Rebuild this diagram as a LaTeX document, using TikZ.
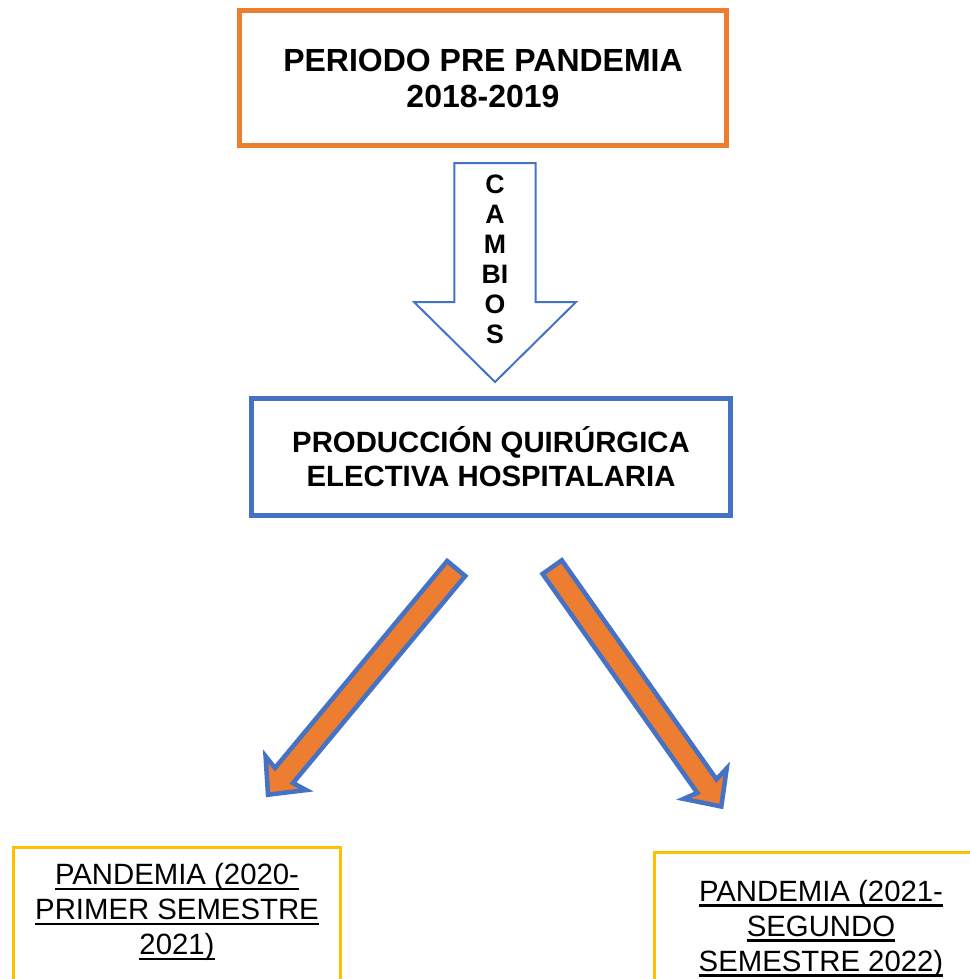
\documentclass[tikz,border=0pt]{standalone}
\usepackage{fontspec}
\setmainfont{Liberation Sans}
\usetikzlibrary{calc,positioning}
\definecolor{boxorange}{HTML}{ED7D31}
\definecolor{boxblue}{HTML}{4472C4}
\definecolor{boxyellow}{HTML}{FFC000}
\tikzset{orangebox/.style={draw=boxorange,line width=3.5pt,minimum width=365.5pt,minimum
height=101.5pt,align=center,font=\fontsize{24}{27}\selectfont\bfseries},bluebox/.style={draw=boxblue,line width=3.5pt,minimum width=359.5pt,minimum
height=88pt,align=center,font=\fontsize{22}{25.5}\selectfont\bfseries}}
\tikzstyle{yellowbox}   = [draw=boxyellow, line width=2pt, anchor=north, minimum width=245.5pt, align=center, text depth=90pt, font=\fontsize{22}{26.25}\selectfont]
\tikzstyle{cambiostext} = [align=center, inner sep=0pt, font=\fontsize{20}{22.5}\selectfont\bfseries]
\tikzstyle{cambiosarrow}= [draw=boxblue, line width=1.5pt, fill=white, line join=miter]
\tikzstyle{diagarrow}   = [draw=boxblue, line width=3.4pt, fill=boxorange, line join=miter]
\newcommand{\undl}[1]{\setbox0\hbox{#1}\rlap{\vrule height -2.3pt depth 3.9pt width \wd0}\box0}
\newcommand{\blockarr}[7][]{%
  \path ($(#3)!#6!(#2)$) coordinate (hb) ($(#3)!#6-#7!(#2)$) coordinate (hj);
  \draw[#1] ($(#2)!#4!90:(#3)$) -- ($(hj)!#4!90:(#3)$) -- ($(hb)!#5!90:(#3)$) -- (#3)
    -- ($(hb)!#5!-90:(#3)$) -- ($(hj)!#4!-90:(#3)$) -- ($(#2)!#4!-90:(#3)$) -- cycle;}

\begin{document}
\begin{tikzpicture}[x=0.75pt,y=-0.75pt]
		\useasboundingbox (0,0) rectangle (970,979);
		\clip (0,0) rectangle (970,979);
		\node[orangebox] (pre) at (483,78) {PERIODO PRE PANDEMIA\\2018-2019};
		\node[bluebox] (prod) at (491,457) {PRODUCCIÓN QUIRÚRGICA\\ELECTIVA HOSPITALARIA};
		\node[yellowbox, inner ysep=12pt] (pan1) at (177,846.3)
			{\undl{PANDEMIA (2020-}\\\undl{PRIMER SEMESTRE}\\\undl{2021)}};
		\node[yellowbox, inner ysep=20.6pt, minimum width=250pt] (pan2) at (821,851.3)
			{\undl{PANDEMIA (2021-}\\\undl{SEGUNDO}\\\undl{SEMESTRE 2022)}};
		\coordinate (cb0) at (495,163);
		\coordinate (cb1) at (495,382);
		\coordinate (la0) at (456.2,568.5);
		\coordinate (la1) at (268,794.7);
		\coordinate (ra0) at (552.2,567.1);
		\coordinate (ra1) at (721.3,806.5);
		\blockarr[cambiosarrow]{cb0}{cb1}{30.4pt}{60.75pt}{60pt}{0pt}
		\node[cambiostext] (cambios) at (495,259.5) {C\\A\\M\\BI\\O\\S};
		\blockarr[diagarrow]{la0}{la1}{8.8pt}{19.8pt}{21pt}{2.25pt}
		\blockarr[diagarrow]{ra0}{ra1}{8.8pt}{19.8pt}{21pt}{2.25pt}
	\end{tikzpicture}
\end{document}
